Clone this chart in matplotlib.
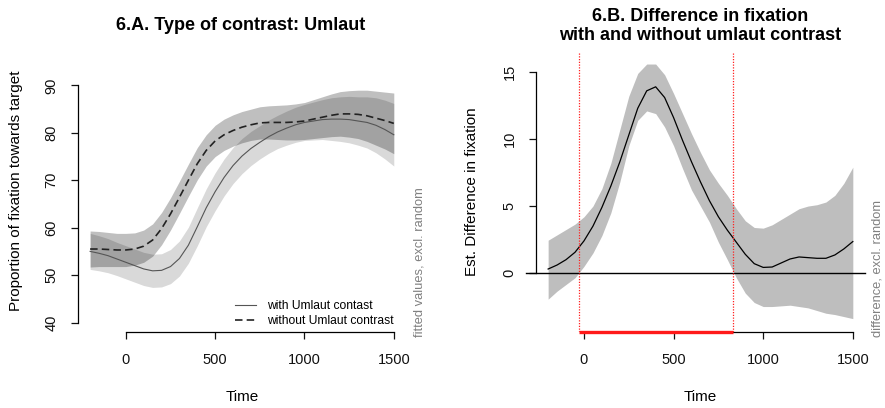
import numpy as np
import matplotlib
matplotlib.use('Agg')
import matplotlib.pyplot as plt

plt.rcParams['font.family'] = ['Liberation Sans', 'DejaVu Sans']

# time points (ms)
time = [-200, -150, -100, -50, 0, 50, 100, 150, 200, 250, 300, 350, 400, 450,
        500, 550, 600, 650, 700, 750, 800, 850, 900, 950, 1000, 1050, 1100,
        1150, 1200, 1250, 1300, 1350, 1400, 1450, 1500]

# 6.A fitted values
with_umlaut = [55.0, 54.6, 54.1, 53.4, 52.7, 52.0, 51.3, 50.9, 51.0, 51.8, 53.5,
               56.3, 60.2, 64.2, 67.6, 70.6, 73.1, 75.1, 76.7, 78.0, 79.2, 80.2,
               81.0, 81.7, 82.2, 82.5, 82.8, 82.9, 82.9, 82.8, 82.5, 82.2, 81.6,
               80.7, 79.6]
with_umlaut_ci = [3.8, 3.7, 3.6, 3.5, 3.5, 3.5, 3.5, 3.5, 3.5, 3.6, 3.7, 3.8, 4.0,
                  4.0, 4.0, 3.9, 3.8, 3.7, 3.6, 3.5, 3.5, 3.5, 3.6, 3.7, 3.8, 4.0,
                  4.2, 4.5, 4.7, 4.9, 5.1, 5.4, 5.8, 6.2, 6.6]
without_umlaut = [55.5, 55.5, 55.4, 55.3, 55.3, 55.5, 56.1, 57.4, 59.8, 62.9, 66.4,
                  70.0, 73.5, 76.3, 78.3, 79.6, 80.5, 81.2, 81.7, 82.1, 82.2, 82.2,
                  82.2, 82.3, 82.5, 82.9, 83.3, 83.7, 84.0, 84.0, 83.9, 83.6, 83.1,
                  82.6, 82.0]
without_umlaut_ci = [3.8, 3.7, 3.6, 3.5, 3.5, 3.4, 3.4, 3.4, 3.4, 3.4, 3.4, 3.4,
                     3.4, 3.3, 3.3, 3.3, 3.3, 3.3, 3.3, 3.4, 3.5, 3.6, 3.7, 3.8, 3.9,
                     4.1, 4.3, 4.5, 4.7, 4.9, 5.1, 5.4, 5.7, 6.0, 6.4]

# 6.B difference curve
diff = [0.3, 0.6, 1.0, 1.55, 2.4, 3.5, 4.9, 6.5, 8.3, 10.3, 12.3, 13.6, 13.9, 13.1,
        11.6, 9.9, 8.3, 6.8, 5.4, 4.2, 3.2, 2.3, 1.4, 0.7, 0.42, 0.45, 0.75, 1.05,
        1.2, 1.15, 1.1, 1.1, 1.35, 1.8, 2.35]
diff_upper = [2.45, 2.85, 3.25, 3.65, 4.2, 5.0, 6.3, 8.2, 10.7, 13.2, 14.9, 15.6,
              15.6, 14.8, 13.4, 11.9, 10.4, 9.0, 7.7, 6.7, 5.8, 4.8, 3.9, 3.4, 3.35,
              3.6, 4.0, 4.4, 4.8, 5.0, 5.1, 5.3, 5.8, 6.7, 7.9]
diff_lower = [-1.95, -1.35, -0.85, -0.35, 0.5, 1.5, 2.8, 4.5, 6.8, 9.5, 11.4, 12.1,
              11.9, 10.9, 9.5, 7.8, 6.2, 5.0, 3.8, 2.3, 1.0, -0.35, -1.5, -2.2, -2.5,
              -2.5, -2.45, -2.4, -2.5, -2.6, -2.8, -3.0, -3.1, -3.25, -3.4]
sig_start, sig_end = -28, 833

xticks = [0, 500, 1000, 1500]

time = np.array(time)
w = np.array(with_umlaut); wc = np.array(with_umlaut_ci)
wo = np.array(without_umlaut); woc = np.array(without_umlaut_ci)


def r_style(ax, yticks):
    for s in ['top', 'right']:
        ax.spines[s].set_visible(False)
    for s in ['left', 'bottom']:
        ax.spines[s].set_linewidth(0.9)
    ax.spines['left'].set_bounds(yticks[0], yticks[-1])
    ax.spines['bottom'].set_bounds(xticks[0], xticks[-1])
    ax.set_xticks(xticks)
    ax.set_yticks(yticks)
    ax.tick_params(direction='out', length=5, width=0.9, labelsize=10.5,
                   colors='#111111')
    ax.tick_params(axis='x', pad=10)
    ax.tick_params(axis='y', pad=9, labelrotation=90)
    for lbl in ax.get_yticklabels():
        lbl.set_va('center')


fig = plt.figure(figsize=(8.85, 4.08), dpi=100)

# ---- 6.A ----
ax1 = fig.add_axes([0.0881, 0.1863, 0.3706, 0.6275])
ax1.fill_between(time, w - wc, w + wc, color='black', alpha=0.15, lw=0)
ax1.fill_between(time, wo - woc, wo + woc, color='black', alpha=0.25, lw=0)
ax1.plot(time, w, color='#555555', lw=0.8, label='with Umlaut contast')
ax1.plot(time, wo, color='#222222', lw=1.2, dashes=(4.5, 2.5),
         label='without Umlaut contrast')
ax1.set_xlim(-268, 1568)
ax1.set_ylim(38, 92)
r_style(ax1, [40, 50, 60, 70, 80, 90])
ax1.set_xlabel('Time', fontsize=11)
ax1.xaxis.set_label_coords(0.5, -0.225)
ax1.set_ylabel('Proportion of fixation towards target', fontsize=11)
ax1.yaxis.set_label_coords(-0.19, 0.55)
ax1.yaxis.label.set_va('center')
ax1.legend(loc='lower left', bbox_to_anchor=(0.478, 0.02), frameon=False,
           fontsize=8.7, handlelength=1.8, handletextpad=0.9, labelspacing=0.2,
           borderpad=0, borderaxespad=0)
fig.text(241 / 885, 1 - 25.5 / 408, '6.A. Type of contrast: Umlaut',
         ha='center', va='center', fontsize=13, fontweight='bold')
fig.text(420 / 885, 1 - 337 / 408, 'fitted values, excl. random', rotation=90,
         ha='center', va='bottom', fontsize=9.3, color='#808080')

# ---- 6.B ----
ax2 = fig.add_axes([0.6056, 0.1863, 0.3718, 0.6863])
ax2.fill_between(time, diff_lower, diff_upper, color='#bebebe', lw=0)
ax2.plot(time, diff, color='black', lw=0.9)
ax2.axhline(0, xmin=-0.03, xmax=1.0, color='black', lw=1.0, clip_on=False)
ax2.set_xlim(-268, 1568)
ax2.set_ylim(-4.4, 16.5)
for xv in [sig_start, sig_end]:
    ax2.axvline(xv, color='#ff2020', lw=0.9, dashes=(1.0, 1.2))
ax2.plot([sig_start, sig_end], [-4.4, -4.4], color='#ff1a1a', lw=2.4,
         clip_on=False, solid_capstyle='butt', zorder=5)
r_style(ax2, [0, 5, 10, 15])
ax2.set_xlabel('Time', fontsize=11)
ax2.xaxis.set_label_coords(0.5, -0.207)
ax2.set_ylabel('Est. Difference in fixation', fontsize=11)
ax2.yaxis.set_label_coords(-0.1945, 0.5)
ax2.yaxis.label.set_va('center')
fig.text(700 / 885, 1 - 26 / 408,
         '6.B. Difference in fixation\nwith and without umlaut contrast',
         ha='center', va='center', fontsize=13, fontweight='bold',
         linespacing=1.1)
fig.text(877 / 885, 1 - 337 / 408, 'difference, excl. random', rotation=90,
         ha='center', va='bottom', fontsize=9.3, color='#808080')

fig.savefig('out.png', dpi=100)
